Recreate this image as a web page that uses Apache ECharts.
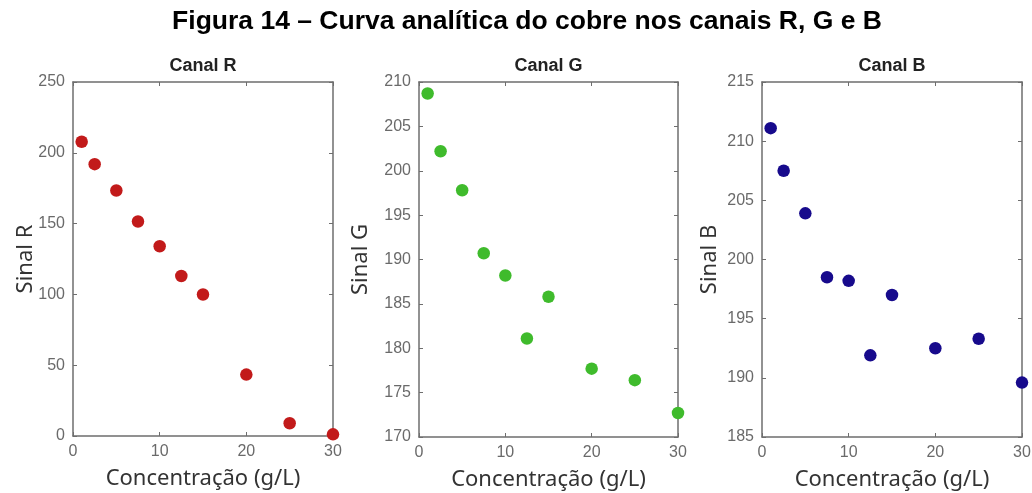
<!DOCTYPE html>
<html><head><meta charset="utf-8">
<script src="https://cdn.jsdelivr.net/npm/echarts@6/dist/echarts.min.js"></script>
<style>html,body{margin:0;padding:0;background:#fff}#c{width:1032px;height:493px}</style>
</head><body><div id="c"></div>
<script>
const conc = [1, 2.5, 5, 7.5, 10, 12.5, 15, 20, 25, 30];
const sinalR = [207.8, 192, 173.4, 151.5, 134, 113, 99.9, 43.4, 9, 1.2];
const sinalG = [208.7, 202.2, 197.8, 190.7, 188.2, 181.1, 185.8, 177.7, 176.4, 172.7];
const sinalB = [211.1, 207.5, 203.9, 198.5, 198.2, 191.9, 197.0, 192.5, 193.3, 189.6];
const panelTitles = ['Canal R', 'Canal G', 'Canal B'];
const yNames = ['Sinal R', 'Sinal G', 'Sinal B'];
const xName = 'Concentração (g/L)';
const figTitle = 'Figura 14 – Curva analítica do cobre nos canais R, G e B';
const yRanges = [[0, 250, 50], [170, 210, 5], [185, 215, 5]];
const xRange = [0, 30, 10];
const colors = ['#c21a1a', '#3fbb2c', '#170a8c'];
const seriesData = [sinalR, sinalG, sinalB];

const grids = [
  {left: 73, right: 699, top: 82, bottom: 57, outerBoundsMode: 'none', containLabel: false},
  {left: 419, right: 354, top: 82, bottom: 56, outerBoundsMode: 'none', containLabel: false},
  {left: 762, right: 10, top: 82, bottom: 56, outerBoundsMode: 'none', containLabel: false}
];
const yNameGaps = [36, 47, 41];
const axisColor = '#6e6e6e';
const labelFont = {color: '#6a6a6a', fontSize: 16, fontFamily: 'Liberation Sans, Arial'};
const nameFont = {color: '#333', fontSize: 22, fontFamily: 'Noto Sans, Open Sans'};

const xAxes = [], yAxes = [], series = [], titles = [];
titles.push({text: figTitle, left: 527, top: 8, textAlign: 'center', padding: 0,
  textStyle: {fontSize: 26.5, fontWeight: 'bold', color: '#000', fontFamily: 'Liberation Sans, Arial'}});
grids.forEach((g, i) => {
  const w = 1032 - g.left - g.right;
  titles.push({text: panelTitles[i], left: g.left + w / 2, top: 57, textAlign: 'center', padding: 0,
    textStyle: {fontSize: 18, fontWeight: 'bold', color: '#222', fontFamily: 'Liberation Sans, Arial'}});
  const common = {
    gridIndex: i, type: 'value', splitLine: {show: false},
    axisLine: {show: true, onZero: false, lineStyle: {color: axisColor, width: 1.5}},
    axisTick: {show: true, inside: true, length: 4, lineStyle: {color: axisColor}}
  };
  xAxes.push(Object.assign({}, common, {position: 'bottom', min: xRange[0], max: xRange[1], interval: xRange[2],
    name: xName, nameLocation: 'middle', nameGap: 32, nameMoveOverlap: false, nameTextStyle: nameFont,
    axisLabel: Object.assign({margin: 8}, labelFont)}));
  xAxes.push(Object.assign({}, common, {position: 'top', min: xRange[0], max: xRange[1], interval: xRange[2],
    axisLabel: {show: false}}));
  const yr = yRanges[i];
  yAxes.push(Object.assign({}, common, {position: 'left', min: yr[0], max: yr[1], interval: yr[2],
    name: yNames[i], nameLocation: 'middle', nameGap: yNameGaps[i], nameMoveOverlap: false, nameRotate: 90,
    nameTextStyle: nameFont, axisLabel: Object.assign({margin: 8}, labelFont)}));
  yAxes.push(Object.assign({}, common, {position: 'right', min: yr[0], max: yr[1], interval: yr[2],
    axisLabel: {show: false}}));
  series.push({type: 'scatter', xAxisIndex: i * 2, yAxisIndex: i * 2, clip: false,
    symbolSize: 12.5, itemStyle: {color: colors[i], opacity: 1},
    data: conc.map((c, k) => [c, seriesData[i][k]])});
});

const chart = echarts.init(document.getElementById('c'));
chart.setOption({animation: false, title: titles, grid: grids, xAxis: xAxes, yAxis: yAxes, series: series});
</script></body></html>
